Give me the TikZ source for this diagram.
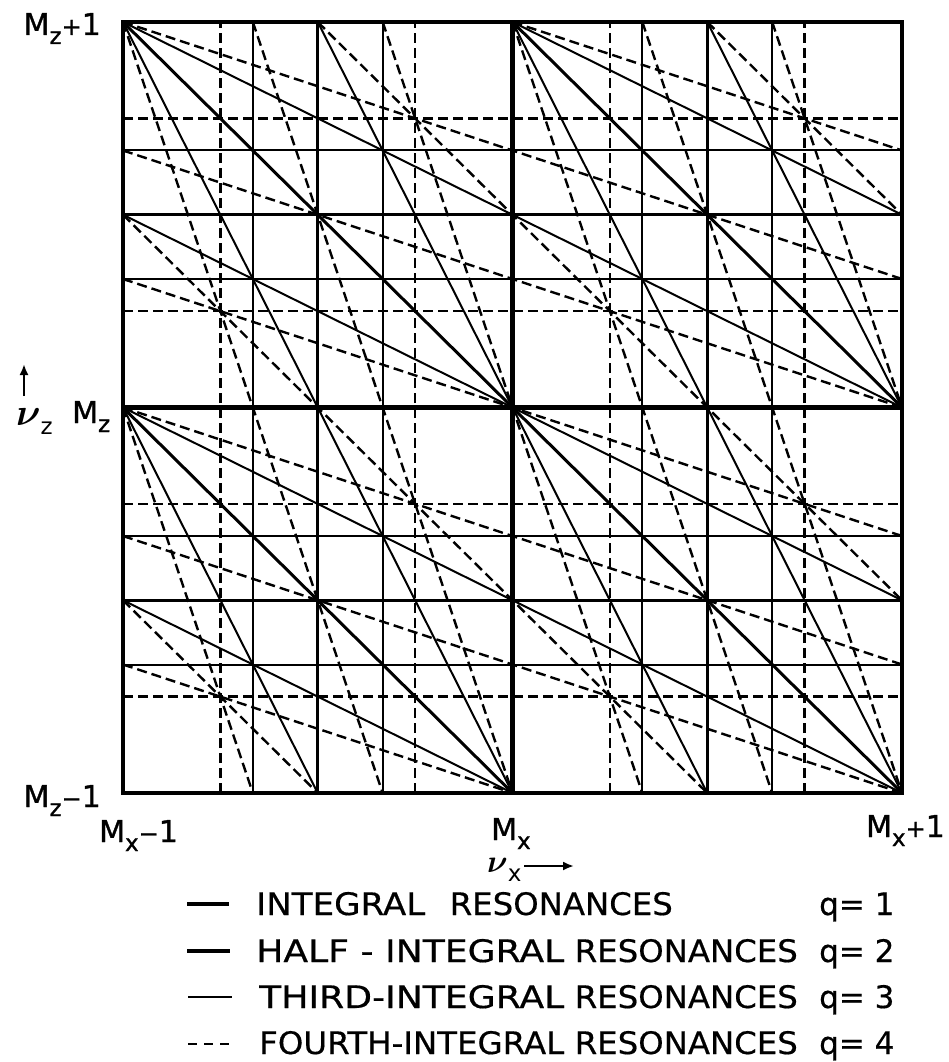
\documentclass[tikz,border=0pt]{standalone}
\usepackage{graphicx}
\usepackage{bm}
\usepackage{fontspec}
\setmainfont{DejaVu Sans}
\usetikzlibrary{arrows.meta}
\tikzset{
  qone/.style={line width=4.2pt},
  qtwo/.style={line width=3.0pt},
  qthree/.style={line width=2.0pt},
  qfour/.style={line width=2.4pt, dash pattern=on 10pt off 5pt},
  lab/.style={inner sep=0pt, font=\fontsize{30}{30}\selectfont\addfontfeature{FakeBold=1.2}},
  leg/.style={inner sep=0pt, font=\fontsize{31}{31}\selectfont\addfontfeature{FakeBold=0.5}},
  axarrow/.style={line width=2.6pt, -{Latex[length=11pt,width=9pt]}},
}
\newcommand\subl[1]{\raisebox{-9pt}{\fontsize{23}{23}\selectfont #1}}
\newcommand\plusl{{\fontsize{24}{24}\selectfont +}}
\newcommand\minusl{{\fontsize{24}{24}\selectfont\char"2212\relax}}
\newcommand\fitw[2]{\resizebox{#1pt}{\height}{#2}}

\begin{document}
\begin{tikzpicture}[x=1pt,y=-1pt]
\useasboundingbox (0,0) rectangle (949,1062);

\begin{scope}[shift={(123,793)}, x=389.5pt, y=385.5pt]
  % q = 4 (dashed)
  \foreach \c in {0.25,0.75,1.25,1.75} {
    \draw[qfour] (\c,0) -- (\c,2);
    \draw[qfour] (0,\c) -- (2,\c);
  }
  \foreach \a/\b/\c/\d in {0/1/0.33333/0, 0/2/0.66667/0, 0.33333/2/1/0, 0.66667/2/1.33333/0,
      1/2/1.66667/0, 1.33333/2/2/0, 1.66667/2/2/1,
      0/0.33333/1/0, 0/0.66667/2/0, 0/1/2/0.33333, 0/1.33333/2/0.66667,
      0/1.66667/2/1, 0/2/2/1.33333, 1/2/2/1.66667,
      0/0.5/0.5/0, 0/1.5/1.5/0, 0.5/2/2/0.5, 1.5/2/2/1.5}
    \draw[qfour] (\a,\b) -- (\c,\d);
  % q = 3 (thin)
  \foreach \c in {0.33333,0.66667,1.33333,1.66667} {
    \draw[qthree] (\c,0) -- (\c,2);
    \draw[qthree] (0,\c) -- (2,\c);
  }
  \foreach \a/\b/\c/\d in {0/1/0.5/0, 0/2/1/0, 0.5/2/1.5/0, 1/2/2/0, 1.5/2/2/1,
      0/0.5/1/0, 0/1/2/0, 0/1.5/2/0.5, 0/2/2/1, 1/2/2/1.5}
    \draw[qthree] (\a,\b) -- (\c,\d);
  % q = 2 (medium)
  \foreach \c in {0.5,1.5} {
    \draw[qtwo] (\c,0) -- (\c,2);
    \draw[qtwo] (0,\c) -- (2,\c);
  }
  \foreach \a/\b/\c/\d in {0/1/1/0, 0/2/2/0, 1/2/2/1}
    \draw[qtwo] (\a,\b) -- (\c,\d);
  % q = 1 (thick)
  \draw[qone] (1,0) -- (1,2);
  \draw[qone] (0,1) -- (2,1);
  \draw[qone] (0,0) rectangle (2,2);
\end{scope}

% axis labels
\node[lab, anchor=base east] (mzp) at (101,35) {M\subl{z}\plusl1};
\node[lab, anchor=base west] (mz) at (72,423) {M\subl{z}};
\node[lab, anchor=base east] (mzm) at (101,807) {M\subl{z}\minusl1};
\node[lab, anchor=base west] (mxm) at (99,842) {M\subl{x}\minusl1};
\node[lab, anchor=base west] (mx) at (491,840) {M\subl{x}};
\node[lab, anchor=base east] (mxp) at (945,837) {M\subl{x}\plusl1};

\node[inner sep=0pt, anchor=base west] (nuz) at (16,425) {\scalebox{3.8}{$\bm\nu$}\subl{z}};
\coordinate (az0) at (24,396);
\coordinate (az1) at (24,364);
\draw[axarrow] (az0) -- (az1);

\node[inner sep=0pt, anchor=base west] (nux) at (487,872) {\scalebox{3.2}{$\bm\nu$}\subl{x}};
\coordinate (ax0) at (524,866);
\coordinate (ax1) at (574,866);
\draw[axarrow] (ax0) -- (ax1);

% legend
\coordinate (l1a) at (187,904); \coordinate (l1b) at (229,904);
\coordinate (l2a) at (187,951); \coordinate (l2b) at (230,951);
\coordinate (l3a) at (188,997); \coordinate (l3b) at (232,997);
\coordinate (l4a) at (188,1044); \coordinate (l4b) at (235,1044);
\draw[line width=4.6pt] (l1a) -- (l1b);
\draw[line width=3.4pt] (l2a) -- (l2b);
\draw[line width=2.4pt] (l3a) -- (l3b);
\draw[line width=2pt, dash pattern=on 9pt off 7pt] (l4a) -- (l4b);

\node[leg, anchor=base west] (t1) at (256,915) {\fitw{169}{INTEGRAL}};
\node[leg, anchor=base east] (r1) at (673,915) {\fitw{223}{RESONANCES}};
\node[leg, anchor=base west] (t2) at (256,962) {\fitw{308}{HALF - INTEGRAL}};
\node[leg, anchor=base east] (r2) at (798,962) {\fitw{223}{RESONANCES}};
\node[leg, anchor=base west] (t3) at (259,1008) {\fitw{305}{THIRD-INTEGRAL}};
\node[leg, anchor=base east] (r3) at (798,1008) {\fitw{223}{RESONANCES}};
\node[leg, anchor=base west] (t4) at (259,1054) {\fitw{305}{FOURTH-INTEGRAL}};
\node[leg, anchor=base east] (r4) at (798,1054) {\fitw{223}{RESONANCES}};
\node[leg, anchor=base west] (q1) at (819,915) {q= 1};
\node[leg, anchor=base west] (q2) at (819,962) {q= 2};
\node[leg, anchor=base west] (q3) at (819,1008) {q= 3};
\node[leg, anchor=base west] (q4) at (819,1054) {q= 4};
\end{tikzpicture}
\end{document}
